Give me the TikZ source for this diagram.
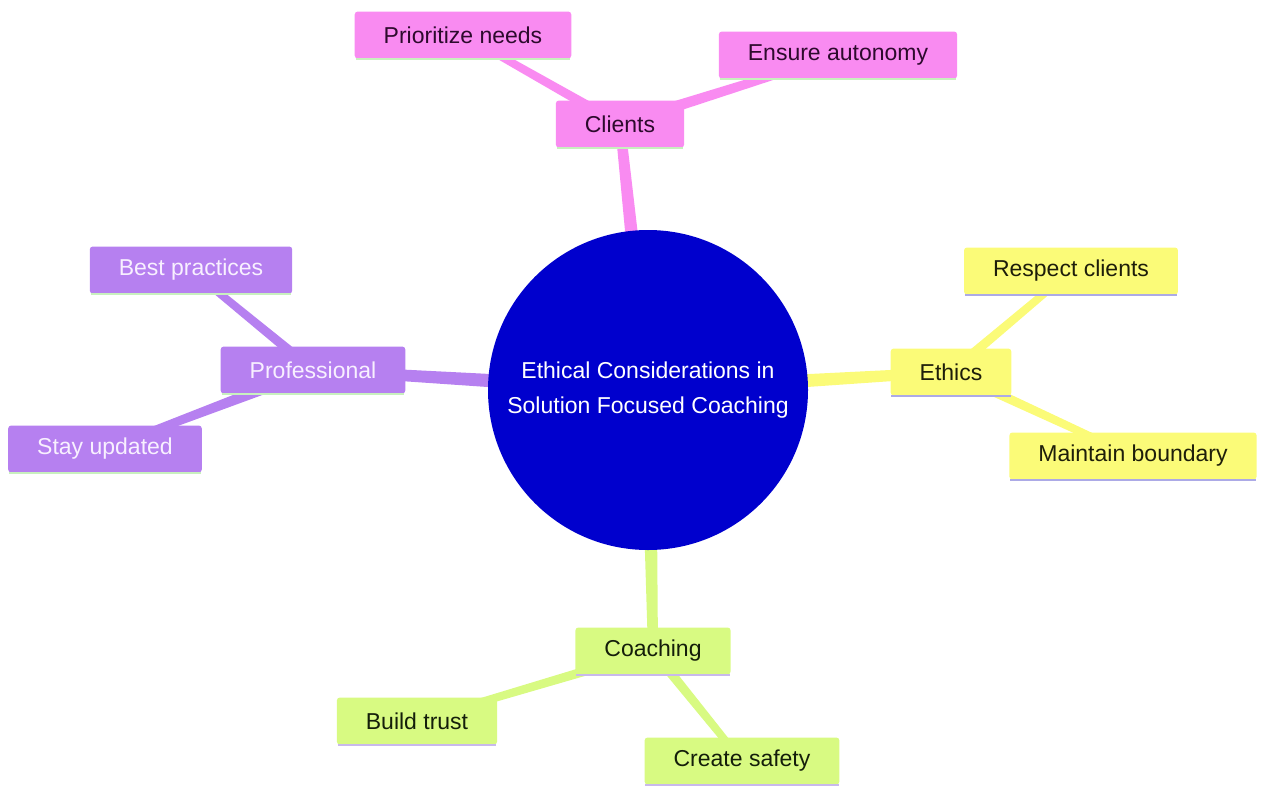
\documentclass[tikz,border=0pt]{standalone}
\usepackage{fontspec}
\setmainfont{Liberation Sans}
\usetikzlibrary{calc,backgrounds}
\definecolor{pinkN}{RGB}{249,139,241}
\definecolor{pinkT}{RGB}{45,10,45}
\definecolor{purpN}{RGB}{182,128,240}
\definecolor{purpT}{RGB}{248,240,255}
\definecolor{yelN}{RGB}{251,251,120}
\definecolor{yelT}{RGB}{30,30,10}
\definecolor{grnN}{RGB}{216,250,130}
\definecolor{grnT}{RGB}{20,30,10}
\definecolor{blueN}{RGB}{0,0,205}
\definecolor{lgreen}{RGB}{200,240,190}
\definecolor{lav}{RGB}{172,170,230}
\definecolor{lav2}{RGB}{200,185,235}
\newcommand\tedge[5]{%
  \fill[#5] ($(#1.center)!#3!90:(#2.center)$) -- ($(#1.center)!#3!-90:(#2.center)$)
    -- ($(#2.center)!#4!90:(#1.center)$) -- ($(#2.center)!#4!-90:(#1.center)$) -- cycle;}
\tikzset{
  box/.style={rectangle, rounded corners=3pt, inner xsep=29pt, inner ysep=0pt,
    minimum height=47pt, font=\fontsize{23}{27}\selectfont},
  pinkbox/.style={box, fill=pinkN, text=pinkT},
  purpbox/.style={box, fill=purpN, text=purpT},
  yelbox/.style={box, fill=yelN, text=yelT},
  grnbox/.style={box, fill=grnN, text=grnT},
}
\begin{document}
\begin{tikzpicture}[x=1pt,y=-1pt]
\useasboundingbox (0,0) rectangle (1261,787);
\node[circle, fill=blueN, minimum size=320pt, inner sep=0pt, text=white,
  align=center, font=\fontsize{23}{35}\selectfont] (c) at (648,390)
  {Ethical Considerations in\\Solution Focused Coaching};
% Clients
\node[pinkbox] (cl) at (620,124) {Clients};
\node[pinkbox] (pn) at (463,35) {Prioritize needs};
\node[pinkbox] (ea) at (838,55) {Ensure autonomy};
% Professional
\node[purpbox] (pr) at (313,370) {Professional};
\node[purpbox] (bp) at (191,270) {Best practices};
\node[purpbox] (su) at (105,449) {Stay updated};
% Ethics
\node[yelbox] (et) at (951,372) {Ethics};
\node[yelbox] (rc) at (1071,271) {Respect clients};
\node[yelbox] (mb) at (1133,456) {Maintain boundary};
% Coaching
\node[grnbox] (co) at (653,651) {Coaching};
\node[grnbox] (bt) at (417,721) {Build trust};
\node[grnbox] (cs) at (742,761) {Create safety};
% bottom strips
\foreach \n/\col in {cl/lgreen,pn/lgreen,ea/lgreen,pr/lgreen,bp/lgreen,su/lgreen,
  et/lav,rc/lav,mb/lav,co/lav2,bt/lav2,cs/lav2}
  \draw[\col, line width=2.5pt] ([xshift=1pt,yshift=-0.5pt]\n.south west) -- ([xshift=-1pt,yshift=-0.5pt]\n.south east);
\begin{pgfonlayer}{background}
  \tedge{c}{cl}{8pt}{5pt}{pinkN}
  \tedge{cl}{pn}{5pt}{3.5pt}{pinkN}
  \tedge{cl}{ea}{6pt}{3.5pt}{pinkN}
  \tedge{c}{pr}{8pt}{5pt}{purpN}
  \tedge{pr}{bp}{5pt}{3.5pt}{purpN}
  \tedge{pr}{su}{6pt}{3.5pt}{purpN}
  \tedge{c}{et}{8pt}{5pt}{yelN}
  \tedge{et}{rc}{5pt}{3.5pt}{yelN}
  \tedge{et}{mb}{5pt}{3.5pt}{yelN}
  \tedge{c}{co}{8pt}{5pt}{grnN}
  \tedge{co}{bt}{5pt}{3.5pt}{grnN}
  \tedge{co}{cs}{5pt}{3.5pt}{grnN}
\end{pgfonlayer}
\end{tikzpicture}
\end{document}
